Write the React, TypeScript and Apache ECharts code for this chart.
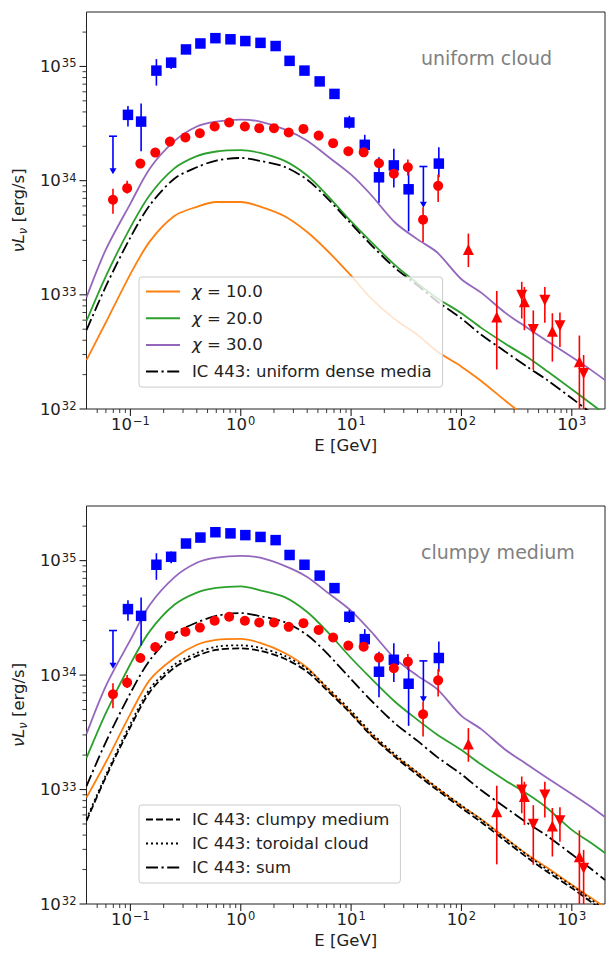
import React, { useEffect, useRef } from 'react';
import * as echarts from 'echarts';

// ---------- model curves (energy grid in GeV, nuL_nu in erg/s) ----------
const eModel = [0.04, 0.06, 0.1, 0.15, 0.25, 0.4, 0.6, 1, 1.5, 2.5, 4, 6, 10, 15, 25, 40, 60, 100, 150, 250, 400, 600, 1000, 1500, 2000];

// top panel: uniform cloud
const uniChi10 = [2.68e32, 5.75e32, 1.52e33, 2.94e33, 4.9e33, 5.9e33, 6.5e33, 6.5e33, 5.93e33, 4.88e33, 3.55e33, 2.47e33, 1.47e33, 9.4e32, 6.1e32, 4.46e32, 3.2e32, 2.35e32, 1.77e32, 1.18e32, 8.3e31, 6.2e31, 4.6e31, 3.5e31, 2.9e31];
const uniChi20 = [5.9e32, 1.46e33, 3.9e33, 7.5e33, 1.28e34, 1.64e34, 1.80e34, 1.85e34, 1.75e34, 1.49e34, 1.11e34, 7.55e33, 4.39e33, 2.94e33, 1.82e33, 1.26e33, 9.4e32, 6.9e32, 5.16e32, 3.73e32, 2.82e32, 2.14e32, 1.49e32, 1.11e32, 9.0e31];
const uniChi30 = [9.5e32, 2.5e33, 6.3e33, 1.28e34, 2.22e34, 2.98e34, 3.29e34, 3.43e34, 3.29e34, 2.81e34, 2.24e34, 1.66e34, 1.13e34, 7.6e33, 4.3e33, 3.06e33, 2.36e33, 1.37e33, 1.05e33, 6.95e32, 5.1e32, 3.93e32, 2.85e32, 2.19e32, 1.79e32];
const uniIC443 = [4.9e32, 1.19e33, 3.18e33, 6.1e33, 1.04e34, 1.31e34, 1.50e34, 1.58e34, 1.49e34, 1.32e34, 1.02e34, 7.1e33, 4.2e33, 2.77e33, 1.72e33, 1.21e33, 8.8e32, 6.2e32, 4.5e32, 3.18e32, 2.32e32, 1.79e32, 1.24e32, 9.2e31, 7.4e31];

// bottom panel: clumpy medium
const cluChi10 = [8.53e32, 1.74e33, 4.58e33, 9.08e33, 1.41e34, 1.84e34, 2.03e34, 2.07e34, 1.91e34, 1.56e34, 1.16e34, 7.73e33, 4.68e33, 3.06e33, 1.97e33, 1.40e33, 1.03e33, 7.19e32, 5.53e32, 3.78e32, 2.68e32, 2.07e32, 1.47e32, 1.13e32, 9.4e31];
const cluChi20 = [1.89e33, 4.68e33, 1.25e34, 2.42e34, 4.11e34, 5.26e34, 5.78e34, 5.96e34, 5.50e34, 4.80e34, 3.56e34, 2.43e34, 1.41e34, 9.46e33, 5.85e33, 4.06e33, 3.03e33, 2.21e33, 1.66e33, 1.20e33, 9.08e32, 6.87e32, 4.44e32, 3.41e32, 2.79e32];
const cluChi30 = [3.06e33, 8.05e33, 2.03e34, 4.11e34, 7.14e34, 9.57e34, 1.06e35, 1.10e35, 1.06e35, 9.0e34, 7.2e34, 5.33e34, 3.64e34, 2.43e34, 1.39e34, 9.84e33, 7.57e33, 4.40e33, 3.39e33, 2.23e33, 1.64e33, 1.26e33, 9.16e32, 7.05e32, 5.75e32];
const icClumpy = [5.32e32, 1.29e33, 3.52e33, 7.13e33, 1.16e34, 1.47e34, 1.66e34, 1.71e34, 1.63e34, 1.39e34, 1.07e34, 7.43e33, 4.58e33, 3.0e33, 1.93e33, 1.34e33, 9.93e32, 6.9e32, 5.21e32, 3.56e32, 2.52e32, 1.91e32, 1.38e32, 1.04e32, 8.5e31];
const icToroidal = [5.53e32, 1.34e33, 3.74e33, 7.57e33, 1.23e34, 1.56e34, 1.77e34, 1.82e34, 1.73e34, 1.47e34, 1.13e34, 7.89e33, 4.86e33, 3.18e33, 2.03e33, 1.41e33, 1.04e33, 7.26e32, 5.48e32, 3.74e32, 2.65e32, 2.0e32, 1.45e32, 1.09e32, 8.95e31];
const icSum = [1.07e33, 2.61e33, 6.97e33, 1.35e34, 2.29e34, 2.88e34, 3.29e34, 3.48e34, 3.27e34, 2.90e34, 2.24e34, 1.56e34, 9.2e33, 6.07e33, 3.78e33, 2.66e33, 1.93e33, 1.36e33, 9.9e32, 6.98e32, 5.07e32, 3.93e32, 2.72e32, 2.02e32, 1.62e32];

// ---------- observations ----------
const sqE = [0.095, 0.125, 0.172, 0.234, 0.319, 0.431, 0.589, 0.807, 1.10, 1.51, 2.07, 2.77, 3.78, 5.19, 7.07, 9.64, 13.3, 17.9, 24.4, 33.2, 62.4];
const sqL = [3.77e34, 3.29e34, 9.2e34, 1.08e35, 1.41e35, 1.59e35, 1.77e35, 1.73e35, 1.67e35, 1.61e35, 1.51e35, 1.12e35, 9.2e34, 7.4e34, 5.75e34, 3.23e34, 2.06e34, 1.07e34, 1.36e34, 8.4e33, 1.41e34];
const sqErrE = [0.095, 0.125, 0.172, 0.234, 9.64, 13.3, 17.9, 24.4, 33.2, 62.4];
const sqErrLo = [2.98e34, 1.81e34, 6.8e34, 9.5e34, 2.85e34, 1.72e34, 6.4e33, 8.7e33, 3.6e33, 1.07e34];
const sqErrHi = [4.5e34, 4.75e34, 1.16e35, 1.20e35, 3.7e34, 2.52e34, 1.6e34, 1.9e34, 1.41e34, 1.96e34];
const ulE = [0.0695, 45.2];
const ulTop = [2.45e34, 1.33e34];
const ulTip = [1.16e34, 5.9e33];

const ciE = [0.0695, 0.0934, 0.123, 0.168, 0.228, 0.315, 0.426, 0.580, 0.785, 1.09, 1.47, 2.0, 2.72, 3.70, 5.08, 6.87, 9.44, 13.0, 17.9, 24.4, 32.7, 44.9, 61.5];
const ciL = [6.8e33, 8.6e33, 1.41e34, 1.76e34, 2.2e34, 2.39e34, 2.6e34, 2.98e34, 3.23e34, 2.98e34, 2.88e34, 2.88e34, 2.64e34, 2.84e34, 2.48e34, 2.13e34, 1.81e34, 1.77e34, 1.42e34, 1.15e34, 1.31e34, 4.55e33, 9.0e33];
const ciErrE = [0.0695, 0.0934, 32.7, 44.9, 61.5];
const ciErrLo = [5.14e33, 7.7e33, 1.11e34, 2.9e33, 6.5e33];
const ciErrHi = [8.5e33, 1.0e34, 1.53e34, 5.86e33, 1.13e34];

const upE = [115.6, 209, 372, 667, 1172];
const upL = [2.5e33, 6.4e32, 8.7e32, 4.8e32, 2.59e32];
const upLo = [1.75e33, 2.22e32, 4.9e32, 2.6e32, 5e31];
const upHi = [3.44e33, 1.08e33, 1.17e33, 6.9e32, 4.4e32];
const dnE = [352, 448, 570, 781, 1280];
const dnL = [9.9e32, 4.98e32, 8.97e32, 5.35e32, 2.05e32];
const dnLo = [6.2e32, 2.2e32, 5.7e32, 3.5e32, 5e31];
const dnHi = [1.3e33, 7.3e32, 1.17e33, 7.0e32, 2.97e32];

// ---------- axes ----------
const X_MIN = 0.04, X_MAX = 2000, Y_MIN = 1e32, Y_MAX = 3e35;
const xMajor = [0.1, 1, 10, 100, 1000];
const yMajor = [1e32, 1e33, 1e34, 1e35];

const ORANGE = '#ff7f0e', GREEN = '#2ca02c', PURPLE = '#9467bd', BLUE = '#0000ff', RED = '#ff0000';
const FONT = 'DejaVu Sans';
const DASHDOT = [12, 3.5, 2.2, 3.5];
const DASHED = [7, 3];
const DOTTED = [2, 3];

function minorTicks(lo: number, hi: number) {
  const out: number[] = [];
  for (let p = -3; p <= 36; p++) {
    for (let k = 2; k <= 9; k++) {
      const v = k * Math.pow(10, p);
      if (v > lo * 1.0001 && v < hi * 0.9999) out.push(v);
    }
  }
  return out;
}

const supFmt = (v: number) => {
  const l = Math.log10(v);
  const e = Math.round(l);
  if (Math.abs(l - e) > 1e-6) return '';
  return `{b|10}{s|${e < 0 ? '\u2212' + -e : e}}`;
};
const tickRich = {
  b: { fontSize: 16.5, color: '#222', fontFamily: FONT, lineHeight: 18 },
  s: { fontSize: 11.5, color: '#222', fontFamily: FONT, lineHeight: 9, verticalAlign: 'top', padding: [0, 0, 0, 1] },
};

function zip(xs: number[], ys: number[]) {
  return xs.map((x, i) => [x, ys[i]]);
}

function lineSeries(name: string, ys: number[], color: string, type: any, gi: number) {
  return {
    type: 'line', name, xAxisIndex: gi, yAxisIndex: gi,
    data: zip(eModel, ys), symbol: 'none', showSymbol: false, smooth: 0.3, clip: true, z: 2, silent: true,
    lineStyle: { color, width: 1.8, type }, itemStyle: { color, opacity: 0 },
  };
}

function errSeries(xs: number[], lo: number[], hi: number[], color: string, gi: number) {
  return {
    type: 'custom', xAxisIndex: gi, yAxisIndex: gi, clip: true, z: 3, silent: true,
    data: xs.map((x, i) => [x, lo[i], hi[i]]),
    encode: { x: 0, y: [1, 2] },
    renderItem: (_p: any, api: any) => {
      const a = api.coord([api.value(0), api.value(1)]);
      const b = api.coord([api.value(0), api.value(2)]);
      return { type: 'line', shape: { x1: a[0], y1: a[1], x2: b[0], y2: b[1] }, style: { stroke: color, lineWidth: 1.6 } };
    },
  };
}

function ulSeries(gi: number) {
  return {
    type: 'custom', xAxisIndex: gi, yAxisIndex: gi, clip: true, z: 3, silent: true,
    data: ulE.map((x, i) => [x, ulTop[i], ulTip[i]]),
    encode: { x: 0, y: [1, 2] },
    renderItem: (_p: any, api: any) => {
      const a = api.coord([api.value(0), api.value(1)]);
      const b = api.coord([api.value(0), api.value(2)]);
      return {
        type: 'group', children: [
          { type: 'line', shape: { x1: a[0], y1: a[1], x2: b[0], y2: b[1] - 2 }, style: { stroke: BLUE, lineWidth: 1.6 } },
          { type: 'line', shape: { x1: a[0] - 4, y1: a[1], x2: a[0] + 4, y2: a[1] }, style: { stroke: BLUE, lineWidth: 1.6 } },
          { type: 'polygon', shape: { points: [[b[0] - 3.5, b[1] - 5], [b[0] + 3.5, b[1] - 5], [b[0], b[1] + 1]] }, style: { fill: BLUE } },
        ],
      };
    },
  };
}

function scatter(name: string, xs: number[], ys: number[], symbol: string, size: number, color: string, gi: number, rot = 0) {
  return {
    type: 'scatter', name, xAxisIndex: gi, yAxisIndex: gi, data: zip(xs, ys), symbol, symbolSize: size,
    symbolRotate: rot, itemStyle: { color, opacity: 1 }, z: 4, silent: true, clip: true,
  };
}

function tickSeries(gi: number) {
  const xData = [...xMajor.map((v) => [v, Y_MIN, 1]), ...minorTicks(X_MIN, X_MAX).map((v) => [v, Y_MIN, 0])];
  const yData = [...yMajor.map((v) => [X_MIN, v, 1]), ...minorTicks(Y_MIN, Y_MAX).map((v) => [X_MIN, v, 0])];
  return [
    {
      type: 'custom', xAxisIndex: gi, yAxisIndex: gi, clip: false, z: 5, silent: true, data: xData,
      encode: { x: 0, y: 1 },
      renderItem: (_p: any, api: any) => {
        const p = api.coord([api.value(0), Y_MIN]);
        const len = api.value(2) ? 7 : 4;
        return { type: 'line', shape: { x1: p[0], y1: p[1], x2: p[0], y2: p[1] + len }, style: { stroke: '#222', lineWidth: api.value(2) ? 1.1 : 0.9 } };
      },
    },
    {
      type: 'custom', xAxisIndex: gi, yAxisIndex: gi, clip: false, z: 5, silent: true, data: yData,
      encode: { x: 0, y: 1 },
      renderItem: (_p: any, api: any) => {
        const p = api.coord([X_MIN, api.value(1)]);
        const len = api.value(2) ? 7 : 4;
        return { type: 'line', shape: { x1: p[0] - len, y1: p[1], x2: p[0], y2: p[1] }, style: { stroke: '#222', lineWidth: api.value(2) ? 1.1 : 0.9 } };
      },
    },
  ];
}

function dataSeries(gi: number) {
  return [
    errSeries(sqErrE, sqErrLo, sqErrHi, BLUE, gi),
    errSeries(ciErrE, ciErrLo, ciErrHi, RED, gi),
    errSeries(upE, upLo, upHi, RED, gi),
    errSeries(dnE, dnLo, dnHi, RED, gi),
    ulSeries(gi),
    scatter('Fermi-LAT ' + gi, sqE, sqL, 'rect', 10.5, BLUE, gi),
    scatter('AGILE ' + gi, ciE, ciL, 'circle', 10, RED, gi),
    scatter('MAGIC ' + gi, upE, upL, 'triangle', 11, RED, gi),
    scatter('VERITAS ' + gi, dnE, dnL, 'triangle', 11, RED, gi, 180),
  ];
}

const GRID_LEFT = 86.5, GRID_W = 525.1;

function xAxis(gi: number) {
  return {
    gridIndex: gi, type: 'log', logBase: 10, min: X_MIN, max: X_MAX,
    axisLine: { show: false }, axisTick: { show: false }, splitLine: { show: false }, minorTick: { show: false },
    axisLabel: { interval: 0, margin: 6, formatter: supFmt, rich: tickRich },
    name: 'E [GeV]', nameLocation: 'middle', nameGap: 28,
    nameTextStyle: { fontSize: 16.5, color: '#222', fontFamily: FONT, lineHeight: 17 },
  };
}
function yAxis(gi: number) {
  return {
    gridIndex: gi, type: 'log', logBase: 10, min: Y_MIN, max: Y_MAX,
    axisLine: { show: false }, axisTick: { show: false }, splitLine: { show: false }, minorTick: { show: false },
    axisLabel: { interval: 0, margin: 10, formatter: supFmt, rich: tickRich },
    name: '{i|\u03bdL}{s|\u03bd}{n| [erg/s]}', nameLocation: 'middle', nameGap: 52, nameRotate: 90,
    nameTextStyle: {
      fontSize: 16.5, color: '#222', fontFamily: FONT,
      rich: {
        i: { fontSize: 16.5, fontStyle: 'italic', color: '#222', fontFamily: FONT, lineHeight: 20 },
        s: { fontSize: 11.5, fontStyle: 'italic', color: '#222', fontFamily: FONT, lineHeight: 12, verticalAlign: 'bottom' },
        n: { fontSize: 16.5, color: '#222', fontFamily: FONT, lineHeight: 20 },
      },
    },
  };
}

function legendBox(names: string[], left: number, top: number, gap: number) {
  return {
    data: names, orient: 'vertical', left, top, itemWidth: 34, itemHeight: 14, itemGap: gap,
    padding: [6, 11, 7, 6], borderColor: '#cccccc', borderWidth: 1, borderRadius: 3,
    backgroundColor: 'rgba(255,255,255,0.8)', selectedMode: false,
    itemStyle: { opacity: 0 },
    formatter: (n: string) => (n.charAt(0) === '\u03c7' ? `{i|\u03c7}{n|${n.slice(1)}}` : n),
    textStyle: {
      fontSize: 16.5, color: '#222', fontFamily: FONT, padding: [0, 0, 0, 7], lineHeight: 17,
      rich: {
        i: { fontSize: 16.5, fontStyle: 'italic', color: '#222', fontFamily: FONT, lineHeight: 17 },
        n: { fontSize: 16.5, color: '#222', fontFamily: FONT, lineHeight: 17 },
      },
    },
  };
}

export default function App() {
  const ref = useRef<HTMLDivElement>(null);
  useEffect(() => {
    if (!ref.current) return;
    const chart = echarts.init(ref.current, null, { renderer: 'svg' });
    const option: any = {
      animation: false,
      textStyle: { fontFamily: FONT },
      grid: [
        { left: GRID_LEFT, top: 12, width: GRID_W, height: 397, show: true, borderColor: '#222', borderWidth: 1, backgroundColor: 'transparent' },
        { left: GRID_LEFT, top: 506, width: GRID_W, height: 398, show: true, borderColor: '#222', borderWidth: 1, backgroundColor: 'transparent' },
      ],
      xAxis: [xAxis(0), xAxis(1)],
      yAxis: [yAxis(0), yAxis(1)],
      legend: [
        legendBox(['\u03c7 = 10.0', '\u03c7 = 20.0', '\u03c7 = 30.0', 'IC 443: uniform dense media'], 139, 277, 9.7),
        legendBox(['IC 443: clumpy medium', 'IC 443: toroidal cloud', 'IC 443: sum'], 139, 805, 7),
      ],
      graphic: [
        { type: 'text', left: 421, top: 48, style: { text: 'uniform cloud', fontSize: 19, fill: '#808080', fontFamily: FONT } },
        { type: 'text', left: 421, top: 542, style: { text: 'clumpy medium', fontSize: 19, fill: '#808080', fontFamily: FONT } },
      ],
      series: [
        lineSeries('\u03c7 = 10.0', uniChi10, ORANGE, 'solid', 0),
        lineSeries('\u03c7 = 20.0', uniChi20, GREEN, 'solid', 0),
        lineSeries('\u03c7 = 30.0', uniChi30, PURPLE, 'solid', 0),
        lineSeries('IC 443: uniform dense media', uniIC443, '#000', DASHDOT, 0),
        ...dataSeries(0),
        ...tickSeries(0),
        lineSeries('clumpy \u03c7 = 10.0', cluChi10, ORANGE, 'solid', 1),
        lineSeries('clumpy \u03c7 = 20.0', cluChi20, GREEN, 'solid', 1),
        lineSeries('clumpy \u03c7 = 30.0', cluChi30, PURPLE, 'solid', 1),
        lineSeries('IC 443: clumpy medium', icClumpy, '#000', DASHED, 1),
        lineSeries('IC 443: toroidal cloud', icToroidal, '#000', DOTTED, 1),
        lineSeries('IC 443: sum', icSum, '#000', DASHDOT, 1),
        ...dataSeries(1),
        ...tickSeries(1),
      ],
    };
    chart.setOption(option);
    return () => chart.dispose();
  }, []);
  return <div ref={ref} style={{ position: 'absolute', left: 0, top: 0, width: 608, height: 953, background: '#fff' }} />;
}
